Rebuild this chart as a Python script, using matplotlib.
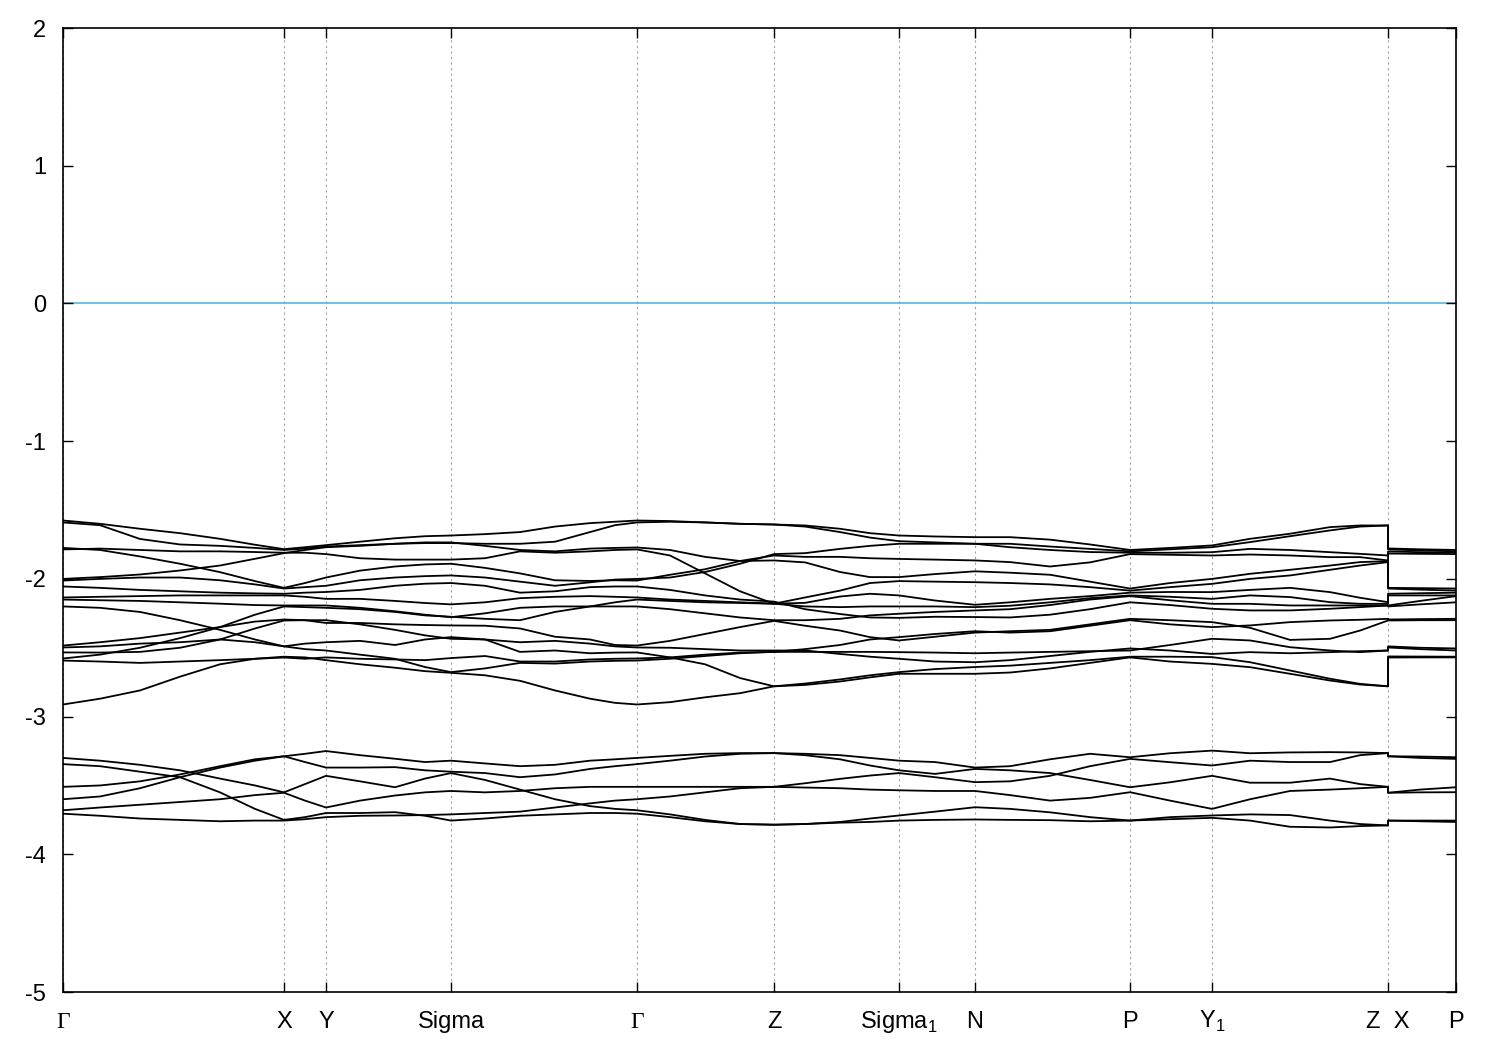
import matplotlib
matplotlib.use("Agg")
import matplotlib.pyplot as plt
import numpy as np

plt.rcParams['font.family'] = ['Liberation Sans', 'DejaVu Sans']
plt.rcParams['axes.unicode_minus'] = False

# k-path distance of each sample point (Z and X share one position: path break)
k = np.array([0.000, 0.037, 0.077, 0.117, 0.157, 0.192, 0.221, 0.242, 0.263,
              0.297, 0.332, 0.362, 0.388, 0.422, 0.457, 0.492, 0.527, 0.552,
              0.574, 0.607, 0.642, 0.677, 0.711, 0.742, 0.777, 0.807, 0.836,
              0.872, 0.912, 0.947, 0.987, 1.027, 1.067, 1.107, 1.149, 1.187,
              1.227, 1.267, 1.297, 1.325, 1.325, 1.357, 1.393])

tick_k = [0.000, 0.221, 0.263, 0.388, 0.574, 0.711, 0.836, 0.912, 1.067, 1.149, 1.325, 1.393]
tick_labels = ['Γ', 'X', 'Y', 'Sigma', 'Γ', 'Z', r'Sigma$_\mathregular{1}$', 'N', 'P',
               r'Y$_\mathregular{1}$', 'Z  X', 'P']

# upper band group (eV)
u1 = [-1.576, -1.600, -1.636, -1.668, -1.709, -1.752, -1.784, -1.770, -1.755, -1.730, -1.705, -1.690, -1.685,
      -1.675, -1.660, -1.620, -1.595, -1.585, -1.576, -1.580, -1.590, -1.600, -1.605, -1.612, -1.636, -1.668, -1.685,
      -1.692, -1.697, -1.697, -1.715, -1.750, -1.790, -1.775, -1.757, -1.709, -1.672, -1.624, -1.612, -1.612,
      -1.779, -1.785, -1.790]
u2 = [-1.590, -1.610, -1.710, -1.750, -1.760, -1.775, -1.790, -1.780, -1.765, -1.755, -1.745, -1.740, -1.740,
      -1.745, -1.745, -1.730, -1.660, -1.610, -1.590, -1.585, -1.590, -1.600, -1.605, -1.620, -1.660, -1.700, -1.726,
      -1.735, -1.745, -1.745, -1.765, -1.782, -1.800, -1.785, -1.770, -1.733, -1.690, -1.648, -1.620, -1.612,
      -1.786, -1.793, -1.800]
u3 = [-1.775, -1.790, -1.837, -1.890, -1.951, -2.016, -2.065, -2.030, -1.990, -1.940, -1.910, -1.895, -1.890,
      -1.920, -1.960, -2.010, -2.015, -2.010, -2.012, -1.970, -1.930, -1.870, -1.830, -1.840, -1.840, -1.850, -1.855,
      -1.860, -1.866, -1.878, -1.910, -1.880, -1.820, -1.825, -1.830, -1.823, -1.830, -1.842, -1.842, -1.866,
      -1.816, -1.818, -1.820]
u4 = [-1.786, -1.780, -1.790, -1.800, -1.800, -1.805, -1.810, -1.810, -1.820, -1.850, -1.860, -1.860, -1.860,
      -1.850, -1.800, -1.810, -1.800, -1.790, -1.786, -1.830, -1.960, -2.090, -2.180, -2.135, -2.085, -2.030, -2.016,
      -2.020, -2.024, -2.030, -2.040, -2.060, -2.085, -2.060, -2.036, -2.000, -1.975, -1.934, -1.903, -1.878,
      -2.070, -2.078, -2.085]
u5 = [-2.000, -1.987, -1.968, -1.939, -1.903, -1.854, -1.813, -1.790, -1.770, -1.760, -1.745, -1.735, -1.735,
      -1.760, -1.790, -1.800, -1.780, -1.775, -1.772, -1.790, -1.840, -1.870, -1.866, -1.880, -1.950, -1.987, -1.987,
      -1.965, -1.945, -1.955, -1.970, -2.020, -2.070, -2.030, -2.000, -1.963, -1.934, -1.903, -1.878, -1.871,
      -2.065, -2.067, -2.070]
u6 = [-2.012, -2.000, -1.990, -1.990, -2.010, -2.040, -2.070, -2.060, -2.050, -2.010, -1.990, -1.980, -1.975,
      -1.990, -2.020, -2.050, -2.025, -2.005, -2.000, -1.990, -1.950, -1.890, -1.820, -1.813, -1.782, -1.760, -1.745,
      -1.745, -1.745, -1.770, -1.790, -1.805, -1.810, -1.810, -1.806, -1.782, -1.790, -1.806, -1.818, -1.830,
      -1.801, -1.806, -1.810]
u7 = [-2.055, -2.065, -2.080, -2.090, -2.100, -2.105, -2.108, -2.100, -2.095, -2.080, -2.050, -2.035, -2.030,
      -2.050, -2.100, -2.090, -2.060, -2.055, -2.055, -2.080, -2.120, -2.150, -2.165, -2.220, -2.255, -2.280, -2.283,
      -2.275, -2.277, -2.280, -2.260, -2.220, -2.170, -2.190, -2.217, -2.229, -2.229, -2.217, -2.205, -2.193,
      -2.200, -2.185, -2.170]
u8 = [-2.135, -2.130, -2.125, -2.120, -2.120, -2.120, -2.120, -2.130, -2.145, -2.145, -2.160, -2.175, -2.185,
      -2.170, -2.140, -2.130, -2.125, -2.130, -2.135, -2.150, -2.160, -2.170, -2.180, -2.174, -2.128, -2.108, -2.120,
      -2.157, -2.188, -2.170, -2.145, -2.125, -2.100, -2.095, -2.096, -2.080, -2.065, -2.096, -2.137, -2.169,
      -2.108, -2.104, -2.100]
u9 = [-2.150, -2.155, -2.160, -2.170, -2.180, -2.190, -2.193, -2.193, -2.193, -2.210, -2.235, -2.260, -2.278,
      -2.250, -2.210, -2.200, -2.200, -2.200, -2.200, -2.220, -2.250, -2.280, -2.300, -2.300, -2.290, -2.265, -2.253,
      -2.240, -2.229, -2.220, -2.190, -2.150, -2.125, -2.155, -2.181, -2.181, -2.193, -2.193, -2.193, -2.193,
      -2.193, -2.160, -2.125]
u10 = [-2.200, -2.210, -2.240, -2.300, -2.370, -2.440, -2.490, -2.470, -2.460, -2.450, -2.480, -2.440, -2.423,
       -2.440, -2.530, -2.520, -2.540, -2.535, -2.534, -2.570, -2.620, -2.720, -2.780, -2.760, -2.730, -2.700, -2.677,
       -2.655, -2.640, -2.630, -2.610, -2.590, -2.565, -2.565, -2.568, -2.605, -2.665, -2.725, -2.762, -2.780,
       -2.563, -2.564, -2.565]
u11 = [-2.484, -2.460, -2.430, -2.390, -2.350, -2.310, -2.295, -2.300, -2.320, -2.320, -2.330, -2.335, -2.338,
       -2.340, -2.360, -2.420, -2.440, -2.480, -2.484, -2.450, -2.400, -2.350, -2.305, -2.340, -2.375, -2.423, -2.447,
       -2.420, -2.390, -2.380, -2.370, -2.330, -2.290, -2.300, -2.314, -2.355, -2.443, -2.435, -2.375, -2.302,
       -2.302, -2.300, -2.300]
u12 = [-2.498, -2.490, -2.470, -2.460, -2.440, -2.460, -2.490, -2.510, -2.520, -2.550, -2.580, -2.640, -2.677,
       -2.650, -2.610, -2.615, -2.600, -2.595, -2.593, -2.580, -2.560, -2.540, -2.530, -2.510, -2.480, -2.440, -2.423,
       -2.400, -2.380, -2.390, -2.380, -2.340, -2.300, -2.330, -2.350, -2.338, -2.314, -2.302, -2.297, -2.290,
       -2.295, -2.292, -2.290]
u13 = [-2.534, -2.535, -2.530, -2.500, -2.440, -2.360, -2.302, -2.300, -2.300, -2.330, -2.370, -2.410, -2.435,
       -2.440, -2.460, -2.450, -2.470, -2.490, -2.498, -2.500, -2.510, -2.520, -2.520, -2.520, -2.545, -2.565, -2.580,
       -2.600, -2.605, -2.590, -2.560, -2.530, -2.505, -2.520, -2.545, -2.532, -2.540, -2.532, -2.525, -2.520,
       -2.498, -2.510, -2.520]
u14 = [-2.578, -2.550, -2.500, -2.430, -2.350, -2.260, -2.200, -2.205, -2.210, -2.220, -2.240, -2.265, -2.275,
       -2.290, -2.300, -2.240, -2.200, -2.170, -2.150, -2.160, -2.170, -2.175, -2.180, -2.200, -2.205, -2.200, -2.200,
       -2.200, -2.205, -2.195, -2.170, -2.140, -2.120, -2.130, -2.145, -2.120, -2.132, -2.169, -2.181, -2.181,
       -2.120, -2.120, -2.120]
u15 = [-2.593, -2.600, -2.610, -2.600, -2.590, -2.580, -2.571, -2.580, -2.570, -2.580, -2.585, -2.590, -2.575,
       -2.560, -2.600, -2.600, -2.585, -2.580, -2.578, -2.570, -2.550, -2.535, -2.530, -2.530, -2.530, -2.530, -2.532,
       -2.535, -2.540, -2.535, -2.530, -2.525, -2.520, -2.480, -2.435, -2.447, -2.496, -2.520, -2.532, -2.520,
       -2.490, -2.500, -2.505]
u16 = [-2.912, -2.870, -2.810, -2.710, -2.620, -2.580, -2.565, -2.570, -2.590, -2.620, -2.645, -2.670, -2.682,
       -2.700, -2.740, -2.810, -2.870, -2.900, -2.912, -2.895, -2.860, -2.830, -2.780, -2.770, -2.745, -2.715, -2.689,
       -2.689, -2.689, -2.680, -2.650, -2.610, -2.570, -2.600, -2.617, -2.641, -2.689, -2.738, -2.767, -2.780,
       -2.571, -2.570, -2.570]

# lower band group (eV)
l1 = [-3.300, -3.320, -3.350, -3.390, -3.450, -3.500, -3.550, -3.490, -3.430, -3.470, -3.513, -3.450, -3.410,
      -3.460, -3.530, -3.600, -3.650, -3.670, -3.680, -3.710, -3.750, -3.780, -3.785, -3.780, -3.765, -3.740, -3.718,
      -3.690, -3.658, -3.670, -3.695, -3.730, -3.755, -3.730, -3.718, -3.710, -3.715, -3.755, -3.780, -3.790,
      -3.755, -3.755, -3.755]
l2 = [-3.345, -3.360, -3.400, -3.440, -3.550, -3.670, -3.750, -3.730, -3.700, -3.700, -3.694, -3.720, -3.755,
      -3.740, -3.720, -3.710, -3.700, -3.700, -3.705, -3.730, -3.760, -3.780, -3.785, -3.780, -3.770, -3.765, -3.755,
      -3.750, -3.747, -3.750, -3.752, -3.760, -3.755, -3.745, -3.735, -3.755, -3.800, -3.805, -3.795, -3.790,
      -3.755, -3.760, -3.765]
l3 = [-3.510, -3.500, -3.470, -3.420, -3.360, -3.310, -3.288, -3.270, -3.250, -3.280, -3.306, -3.330, -3.320,
      -3.340, -3.360, -3.350, -3.320, -3.310, -3.300, -3.285, -3.270, -3.265, -3.265, -3.280, -3.310, -3.355, -3.390,
      -3.416, -3.380, -3.390, -3.410, -3.460, -3.513, -3.477, -3.430, -3.480, -3.480, -3.450, -3.490, -3.510,
      -3.553, -3.530, -3.513]
l4 = [-3.600, -3.580, -3.520, -3.440, -3.370, -3.320, -3.288, -3.330, -3.370, -3.370, -3.367, -3.390, -3.400,
      -3.410, -3.440, -3.420, -3.380, -3.360, -3.345, -3.320, -3.290, -3.270, -3.265, -3.270, -3.280, -3.300, -3.320,
      -3.330, -3.370, -3.360, -3.310, -3.270, -3.295, -3.266, -3.247, -3.266, -3.260, -3.258, -3.260, -3.265,
      -3.288, -3.290, -3.295]
l5 = [-3.680, -3.660, -3.640, -3.620, -3.600, -3.570, -3.553, -3.610, -3.660, -3.610, -3.573, -3.550, -3.540,
      -3.550, -3.540, -3.520, -3.510, -3.510, -3.510, -3.510, -3.510, -3.510, -3.510, -3.484, -3.452, -3.428, -3.410,
      -3.440, -3.476, -3.470, -3.430, -3.360, -3.307, -3.331, -3.355, -3.320, -3.330, -3.330, -3.280, -3.265,
      -3.288, -3.300, -3.307]
l6 = [-3.705, -3.720, -3.740, -3.750, -3.760, -3.755, -3.755, -3.745, -3.730, -3.720, -3.718, -3.715, -3.710,
      -3.700, -3.690, -3.660, -3.630, -3.610, -3.600, -3.580, -3.550, -3.520, -3.510, -3.515, -3.520, -3.530, -3.535,
      -3.540, -3.540, -3.570, -3.610, -3.590, -3.549, -3.610, -3.670, -3.600, -3.540, -3.530, -3.520, -3.510,
      -3.553, -3.550, -3.549]

bands = [u1, u2, u3, u4, u5, u6, u7, u8, u9, u10, u11, u12, u13, u14, u15, u16,
         l1, l2, l3, l4, l5, l6]

fig = plt.figure(figsize=(15, 10.5), dpi=100)
ax = fig.add_axes([0.042, 0.0552, 0.9287, 0.9181])

for t in tick_k:
    ax.axvline(t, color='#a0a0a0', lw=0.8, ls=(0, (2, 3)), zorder=0)
ax.axhline(0, color='#56b4e9', lw=1.2, zorder=1)
for band in bands:
    ax.plot(k, band, color='black', lw=1.3, zorder=2)

ax.set_xlim(0, 1.393)
ax.set_ylim(-5, 2)
ax.set_xticks(tick_k, tick_labels)
ax.set_yticks(range(-5, 3))
ax.tick_params(direction='in', length=7, width=1, top=True, right=True, labelsize=17)
ax.tick_params(axis='x', pad=26)
ax.tick_params(axis='y', pad=12)
for lbl in ax.get_xticklabels():
    lbl.set_va('baseline')
    if lbl.get_text() == 'Γ':
        lbl.set_fontfamily('Liberation Serif')
for s in ax.spines.values():
    s.set_linewidth(1.2)

fig.savefig('out.png')
